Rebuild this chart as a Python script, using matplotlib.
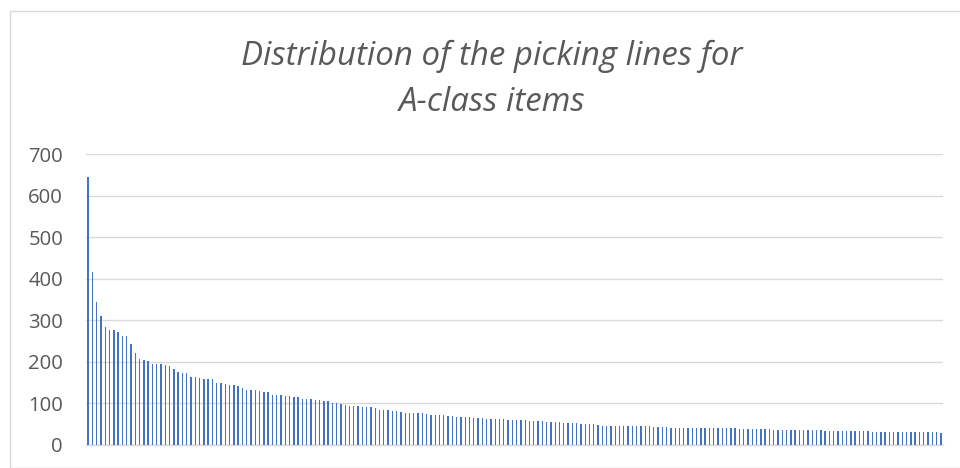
import matplotlib
matplotlib.use("Agg")
import matplotlib.pyplot as plt
from matplotlib.patches import Rectangle

# Picking lines per A-class item, sorted in descending order
picking_lines = [
    644, 417, 344, 310, 285, 276, 276, 272, 262, 262,
    244, 221, 208, 204, 202, 195, 195, 194, 192, 190,
    184, 176, 172, 172, 163, 163, 161, 159, 158, 158,
    148, 148, 147, 145, 144, 143, 138, 133, 133, 132,
    131, 128, 127, 121, 120, 120, 119, 119, 116, 115,
    110, 110, 110, 109, 108, 107, 106, 101, 101, 98,
    96, 94, 94, 94, 91, 91, 91, 90, 85, 85,
    84, 82, 81, 79, 77, 77, 77, 77, 77, 75,
    73, 72, 72, 71, 69, 69, 67, 67, 67, 67,
    65, 65, 65, 63, 63, 63, 63, 63, 61, 61,
    61, 60, 59, 58, 58, 57, 57, 55, 55, 55,
    55, 54, 54, 54, 52, 51, 51, 50, 50, 48,
    46, 46, 46, 46, 46, 46, 46, 46, 46, 46,
    46, 46, 44, 44, 44, 43, 41, 41, 41, 41,
    41, 41, 41, 42, 42, 42, 42, 41, 41, 40,
    40, 40, 39, 39, 38, 38, 38, 38, 38, 38,
    37, 37, 37, 37, 36, 36, 35, 35, 35, 35,
    35, 35, 34, 34, 34, 34, 34, 33, 33, 33,
    33, 33, 33, 32, 32, 32, 32, 32, 31, 31,
    31, 31, 31, 31, 31, 31, 31, 31, 31, 30,
]
y_ticks = [0, 100, 200, 300, 400, 500, 600, 700]
title_lines = ["Distribution of the picking lines for", "A-class items"]

TEXT = "#595959"
GRID = "#D9D9D9"
BAR = "#4472C4"

W, H = 960, 468
fig = plt.figure(figsize=(W / 100, H / 100), dpi=100)

# Chart frame
fig.patches.append(Rectangle((9.5 / W, 0), 1.1, 1 - 10.5 / H,
                             transform=fig.transFigure, fill=False,
                             edgecolor=GRID, linewidth=1.0))

left, right, top, bottom = 86, 943, 154, 445
ax = fig.add_axes([left / W, 1 - bottom / H, (right - left) / W, (bottom - top) / H])

x = list(range(len(picking_lines)))
ax.bar(x, picking_lines, width=0.32, color=BAR, linewidth=0, zorder=3)

ax.set_xlim(-0.5, len(picking_lines) - 0.5)
ax.set_ylim(0, 700)
ax.set_yticks(y_ticks)
ax.set_yticklabels([str(t) for t in y_ticks], fontsize=14.6, color=TEXT,
                   family="Open Sans")
ax.tick_params(axis="y", length=0, pad=16.5)
ax.set_xticks([])
ax.grid(axis="y", color=GRID, linewidth=1.0, zorder=0)
for s in ["left", "right", "top"]:
    ax.spines[s].set_visible(False)
ax.spines["bottom"].set_color(GRID)
ax.spines["bottom"].set_linewidth(1.0)

# Two-line title
fig.text(492 / W, 1 - 65 / H, title_lines[0], ha="center", va="baseline",
         fontsize=23.8, style="italic", color=TEXT, family="Open Sans")
fig.text(492 / W, 1 - 110.7 / H, title_lines[1], ha="center", va="baseline",
         fontsize=23.8, style="italic", color=TEXT, family="Open Sans")

fig.savefig("out.png", dpi=100, facecolor="white")
